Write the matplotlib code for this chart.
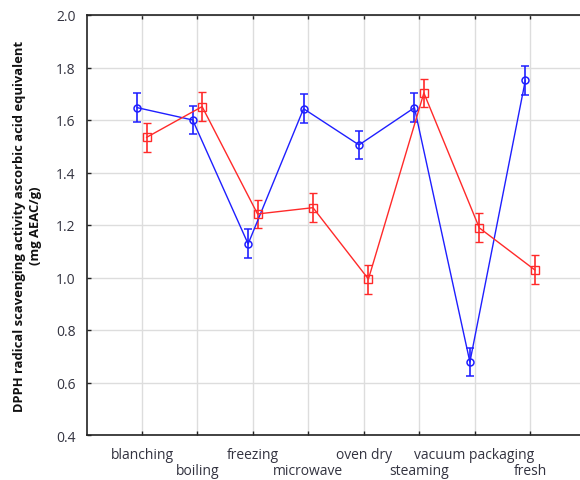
import matplotlib
matplotlib.use("Agg")
import matplotlib.pyplot as plt
import numpy as np

categories = ["blanching", "boiling", "freezing", "microwave", "oven dry",
              "steaming", "vacuum packaging", "fresh"]
blue_vals = [1.647, 1.600, 1.128, 1.643, 1.505, 1.647, 0.678, 1.751]
blue_err = [0.055, 0.055, 0.055, 0.055, 0.055, 0.055, 0.053, 0.055]
red_vals = [1.534, 1.651, 1.242, 1.266, 0.994, 1.703, 1.189, 1.029]
red_err = [0.055, 0.055, 0.055, 0.055, 0.055, 0.055, 0.055, 0.055]
y_ticks = [0.4, 0.6, 0.8, 1.0, 1.2, 1.4, 1.6, 1.8, 2.0]

plt.rcParams['font.family'] = ['Open Sans', 'DejaVu Sans']
txt = '#333340'

fig = plt.figure(figsize=(5.8, 4.81), dpi=100)
W, H = 580, 481
left, right, top, bottom = 86.5, 585.5, 16, 436
ax = fig.add_axes([left / W, 1 - bottom / H, (right - left) / W, (bottom - top) / H])

x = np.arange(1, len(categories) + 1)
off = 0.085
ax.errorbar(x - off, blue_vals, yerr=blue_err, color='#1f1fff', marker='o', ms=5,
            mfc='none', mew=1.1, lw=1.0, capsize=3, elinewidth=1.2, capthick=1.0, zorder=3)
ax.errorbar(x + off, red_vals, yerr=red_err, color='#ff2a2a', marker='s', ms=5.5,
            mfc='none', mew=1.0, lw=1.0, capsize=3, elinewidth=1.2, capthick=1.0, zorder=3)

ax.set_xlim(0, 9)
ax.set_ylim(0.4, 2.0)
ax.set_yticks(y_ticks)
ax.set_yticklabels([f"{v:.1f}" for v in y_ticks])
ax.set_xticks(x)
ax.set_xticklabels(categories)
ax.grid(True, color='#dddddd', lw=1.0)
ax.set_axisbelow(True)
ax.tick_params(direction='in', length=3, width=1, top=True, colors='#222222',
               labelcolor=txt, labelsize=10, pad=8)
ax.tick_params(axis='x', pad=8.5)
for i, t in enumerate(ax.xaxis.get_major_ticks()):
    if i % 2 == 1:
        t.set_pad(20.5)
for s in ['left', 'bottom', 'top']:
    ax.spines[s].set_color('#222222')
    ax.spines[s].set_linewidth(1.2)
ax.spines['right'].set_visible(False)

fig.text(28 / W, 1 - 226 / H, "DPPH radical scavenging activity ascorbic acid equivalent\n(mg AEAC/g)",
         rotation=90, ha='center', va='center', fontsize=9.4, fontweight='bold',
         color='#111111', linespacing=1.3)

fig.savefig("out.png", dpi=100)
